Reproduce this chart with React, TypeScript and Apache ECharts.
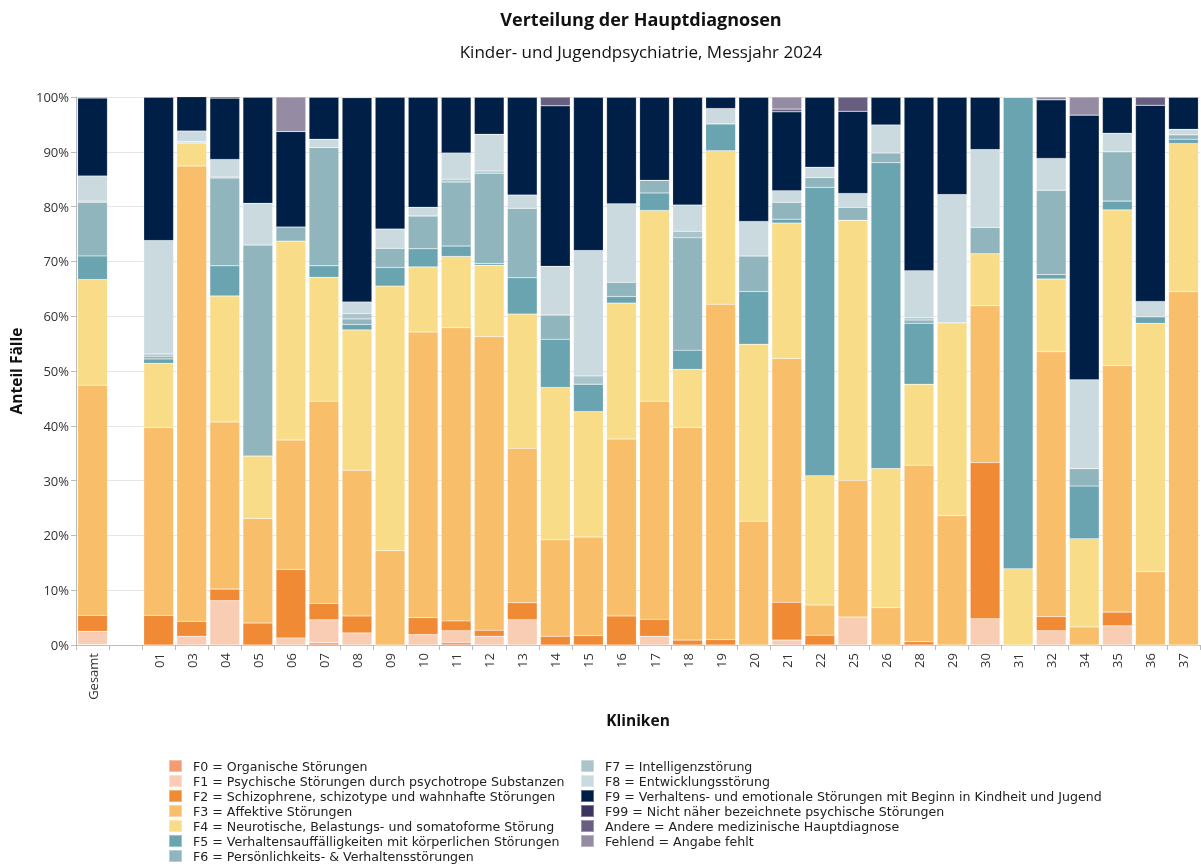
import React, { useEffect, useRef } from "react";
import * as echarts from "echarts";

const categories = ["Gesamt", "", "01", "03", "04", "05", "06", "07", "08", "09", "10", "11", "12", "13", "14", "15", "16", "17", "18", "19", "20", "21", "22", "25", "26", "28", "29", "30", "31", "32", "34", "35", "36", "37"];

const yTicks = [0, 10, 20, 30, 40, 50, 60, 70, 80, 90, 100];

const f0 = [0.1, null, 0, 0, 0, 0, 0, 0.4, 0, 0, 0, 0.5, 0, 0, 0, 0, 0, 0, 0, 0, 0, 0, 0, 0, 0, 0, 0, 0, 0, 0, 0, 0, 0, 0];
const f1 = [2.4, null, 0, 1.6, 8.1, 0, 1.3, 4.2, 2.2, 0, 1.9, 2.1, 1.6, 4.6, 0, 0, 0, 1.6, 0, 0, 0, 0.9, 0, 5.1, 0, 0, 0, 4.8, 0, 2.6, 0, 3.5, 0, 0];
const f2 = [2.9, null, 5.4, 2.7, 2.1, 4.0, 12.5, 3.0, 3.1, 0, 3.1, 1.8, 1.1, 3.1, 1.6, 1.7, 5.3, 3.1, 0.9, 1.0, 0, 6.9, 1.8, 0, 0, 0.6, 0, 28.5, 0, 2.6, 0, 2.5, 0, 0];
const f3 = [42.0, null, 34.3, 83.1, 30.5, 19.1, 23.6, 36.9, 26.6, 17.2, 52.1, 53.5, 53.6, 28.2, 17.6, 18.0, 32.3, 39.8, 38.8, 61.2, 22.6, 44.5, 5.5, 24.9, 6.8, 32.2, 23.6, 28.6, 0, 48.3, 3.3, 45.0, 13.4, 64.5];
const f4 = [19.3, null, 11.7, 4.2, 23.0, 11.4, 36.3, 22.6, 25.6, 48.3, 11.9, 13.0, 13.0, 24.5, 27.8, 22.9, 24.8, 34.8, 10.6, 28.0, 32.3, 24.7, 23.6, 47.5, 25.4, 14.8, 35.2, 9.5, 13.9, 13.3, 16.1, 28.4, 45.3, 27.0];
const f5 = [4.3, null, 0.8, 0.15, 5.5, 0, 0, 2.1, 1.0, 3.4, 3.3, 1.9, 0.3, 6.6, 8.8, 5.0, 1.2, 3.2, 3.5, 4.9, 9.6, 0.7, 52.6, 0, 55.8, 11.1, 0, 0, 86.1, 0.8, 9.6, 1.6, 1.2, 0.8];
const f6 = [9.8, null, 0.5, 0.15, 16.0, 38.5, 2.6, 21.6, 1.0, 3.5, 6.0, 11.7, 16.5, 12.7, 4.4, 0, 2.6, 2.3, 20.5, 0, 6.5, 3.1, 1.8, 2.4, 1.8, 0.6, 0, 4.8, 0, 15.4, 3.2, 9.0, 0, 0.8];
const f7 = [0.2, null, 0.4, 0, 0.2, 0, 0, 0, 1.0, 0, 0, 0.5, 0.4, 0, 0, 1.5, 0, 0, 1.2, 0, 0, 0, 0, 0, 0, 0.4, 0, 0, 0, 0, 0, 0, 0, 0];
const f8 = [4.6, null, 20.7, 1.9, 3.2, 7.6, 0, 1.5, 2.1, 3.5, 1.6, 4.8, 6.7, 2.4, 8.9, 22.9, 14.3, 0, 4.8, 2.8, 6.3, 2.1, 1.9, 2.5, 5.1, 8.6, 23.4, 14.2, 0, 5.8, 16.2, 3.4, 2.8, 1.0];
const f9 = [14.2, null, 26.2, 6.3, 11.2, 19.4, 17.4, 7.7, 37.3, 24.1, 20.1, 10.2, 6.8, 17.9, 29.3, 28.0, 19.5, 15.2, 19.7, 2.1, 22.7, 14.4, 12.8, 15.0, 5.1, 31.7, 17.8, 9.6, 0, 10.7, 48.3, 6.6, 35.8, 5.9];
const f99 = [0.1, null, 0, 0, 0, 0, 0, 0, 0, 0, 0, 0, 0, 0, 0, 0, 0, 0, 0, 0, 0, 0, 0, 0, 0, 0, 0, 0, 0, 0, 0, 0, 0, 0];
const andere = [0.2, null, 0, 0, 0.5, 0, 0, 0, 0, 0, 0, 0, 0, 0, 1.6, 0, 0, 0, 0, 0, 0, 0.5, 0, 2.6, 0, 0, 0, 0, 0, 0, 0, 0, 1.5, 0];
const fehlend = [0.4, null, 0, 0, 0, 0, 6.3, 0, 0, 0, 0, 0, 0, 0, 0, 0, 0, 0, 0, 0, 0, 2.2, 0, 0, 0, 0, 0, 0, 0, 0.5, 3.3, 0, 0, 0];

const seriesNames = [
  "F0 = Organische Störungen",
  "F1 = Psychische Störungen durch psychotrope Substanzen",
  "F2 = Schizophrene, schizotype und wahnhafte Störungen",
  "F3 = Affektive Störungen",
  "F4 = Neurotische, Belastungs- und somatoforme Störung",
  "F5 = Verhaltensauffälligkeiten mit körperlichen Störungen",
  "F6 = Persönlichkeits- & Verhaltensstörungen",
  "F7 = Intelligenzstörung",
  "F8 = Entwicklungsstörung",
  "F9 = Verhaltens- und emotionale Störungen mit Beginn in Kindheit und Jugend",
  "F99 = Nicht näher bezeichnete psychische Störungen",
  "Andere = Andere medizinische Hauptdiagnose",
  "Fehlend = Angabe fehlt",
];
const seriesData = [f0, f1, f2, f3, f4, f5, f6, f7, f8, f9, f99, andere, fehlend];
const colors = ["#f39c73", "#f9cdb4", "#f08a34", "#f9be6a", "#f9dc88", "#69a4b0", "#91b5bc", "#a9c5cb", "#cbdadf", "#001f47", "#3d3560", "#675e80", "#958ba3"];

const FONT = "Open Sans";
const LEGEND_FONT = "DejaVu Sans";

export default function App() {
  const ref = useRef<HTMLDivElement>(null);
  useEffect(() => {
    if (!ref.current) return;
    const chart = echarts.init(ref.current, null, { renderer: "svg" });
    const legendText = { fontFamily: LEGEND_FONT, fontSize: 12.6, lineHeight: 14, color: "#222", padding: [0, 0, 0, 6] };
    const legendBase = {
      orient: "vertical",
      top: 759,
      height: 200,
      padding: 0,
      itemWidth: 13,
      itemHeight: 12,
      itemGap: 1,
      icon: "rect",
      textStyle: legendText,
      selectedMode: false,
    };
    chart.setOption({
      animation: false,
      color: colors,
      textStyle: { fontFamily: FONT },
      title: [
        {
          text: "Verteilung der Hauptdiagnosen",
          left: 636,
          top: 5,
          textAlign: "center",
          textStyle: { fontFamily: FONT, fontSize: 18, fontWeight: "bold", color: "#111" },
        },
        {
          text: "Kinder- und Jugendpsychiatrie, Messjahr 2024",
          left: 636,
          top: 38,
          textAlign: "center",
          textStyle: { fontFamily: FONT, fontSize: 17, fontWeight: "normal", color: "#111" },
        },
      ],
      legend: [
        { ...legendBase, left: 168, data: seriesNames.slice(0, 7) },
        { ...legendBase, left: 580, data: seriesNames.slice(7) },
      ],
      grid: { left: 71, right: 1, top: 97, bottom: 221, containLabel: false },
      xAxis: {
        type: "category",
        data: categories,
        name: "Kliniken",
        nameLocation: "middle",
        nameGap: 67,
        nameTextStyle: { fontFamily: FONT, fontSize: 15.5, fontWeight: "bold", color: "#111" },
        axisLine: { lineStyle: { color: "#bbb" } },
        axisTick: { show: true, interval: 0, length: 5, lineStyle: { color: "#bbb" } },
        axisLabel: { rotate: 90, interval: 0, fontFamily: FONT, fontSize: 13, color: "#333", margin: 8 },
      },
      yAxis: {
        type: "value",
        min: 0,
        max: 100,
        interval: 10,
        name: "Anteil Fälle",
        nameLocation: "middle",
        nameGap: 52,
        nameRotate: 90,
        nameTextStyle: { fontFamily: FONT, fontSize: 15.5, fontWeight: "bold", color: "#111" },
        axisLine: { show: true, lineStyle: { color: "#bbb" } },
        axisTick: { show: true, length: 5, lineStyle: { color: "#bbb" } },
        axisLabel: {
          fontFamily: FONT,
          fontSize: 13,
          color: "#333",
          margin: 7,
          formatter: (v: number) => (yTicks.includes(v) ? v + "%" : ""),
        },
        splitLine: { lineStyle: { color: "#e6e6e6" } },
      },
      series: seriesNames.map((name, i) => ({
        name,
        type: "bar",
        stack: "total",
        barWidth: "90%",
        data: seriesData[i],
        itemStyle: { color: colors[i], borderColor: "rgba(255,255,255,0.35)", borderWidth: 0.5 },
      })),
    });
    return () => chart.dispose();
  }, []);
  return <div ref={ref} style={{ position: "fixed", left: 0, top: 0, width: 1201, height: 866 }} />;
}
